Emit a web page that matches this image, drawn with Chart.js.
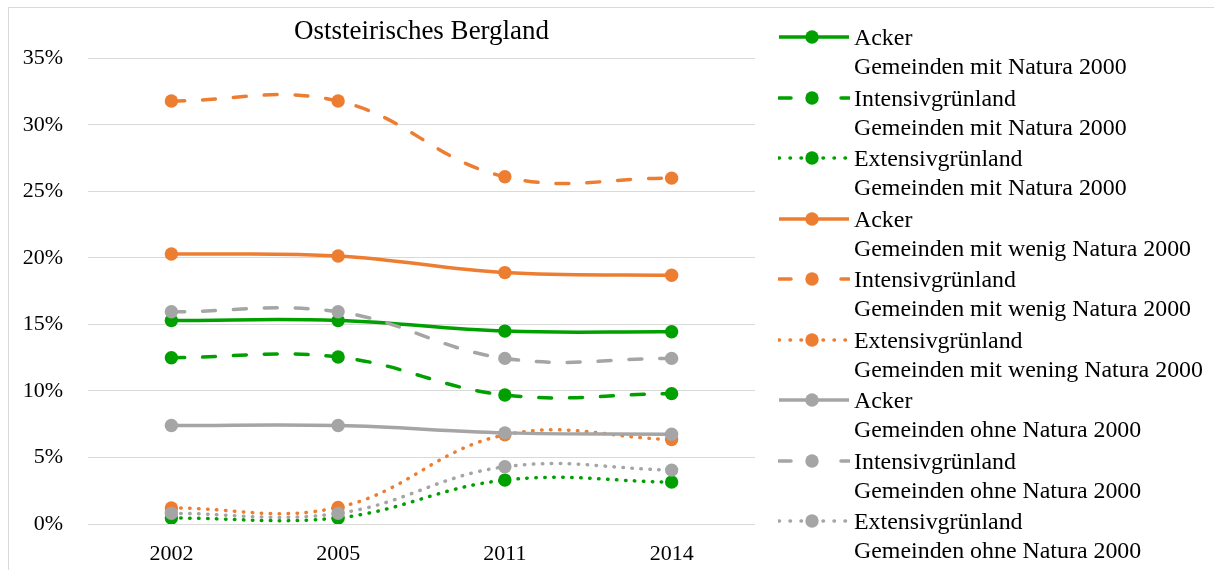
<!DOCTYPE html>
<html>
<head>
<meta charset="utf-8">
<title>Oststeirisches Bergland</title>
<script src="https://cdn.jsdelivr.net/npm/chart.js@4.4.1/dist/chart.umd.min.js"></script>
<style>
  html, body { margin: 0; padding: 0; background: #fff; }
  body {
    width: 1214px; height: 570px; position: relative; overflow: hidden;
    font-family: "Liberation Serif", "Times New Roman", serif; color: #000;
  }
  .frame { position: absolute; left: 8px; top: 7px; width: 1220px; height: 580px; border: 1px solid #d9d9d9; }
  .chart-box { position: absolute; left: 0; top: 0; width: 850px; height: 570px; }
  .legend { position: absolute; left: 778px; top: 23px; }
  .legend-item { position: relative; height: 58px; margin-bottom: 2.5px; padding-left: 76px; }
  .legend-item svg { position: absolute; left: 0; top: 7px; }
  .legend-line { font-size: 23.9px; line-height: 29px; white-space: nowrap; }
</style>
</head>
<body>
<div class="frame"></div>
<div class="chart-box"><canvas id="chart"></canvas></div>
<div class="legend" id="legend"></div>

<script>
// ---------- Data ----------
const years = ['2002', '2005', '2011', '2014'];
const yTicks = [0, 5, 10, 15, 20, 25, 30, 35];

const ackerMit       = [15.3, 15.3, 14.5, 14.45];
const intensivMit    = [12.5, 12.55, 9.7, 9.8];
const extensivMit    = [0.45, 0.45, 3.3, 3.15];
const ackerWenig     = [20.3, 20.15, 18.9, 18.7];
const intensivWenig  = [31.8, 31.8, 26.1, 26.0];
const extensivWenig  = [1.2, 1.25, 6.7, 6.35];
const ackerOhne      = [7.4, 7.4, 6.85, 6.75];
const intensivOhne   = [15.95, 15.95, 12.45, 12.45];
const extensivOhne   = [0.8, 0.8, 4.3, 4.05];

const seriesValues = [ackerMit, intensivMit, extensivMit, ackerWenig, intensivWenig, extensivWenig, ackerOhne, intensivOhne, extensivOhne];
const seriesTypes = ['Acker', 'Intensivgrünland', 'Extensivgrünland', 'Acker', 'Intensivgrünland', 'Extensivgrünland', 'Acker', 'Intensivgrünland', 'Extensivgrünland'];
const seriesGroups = [
  'Gemeinden mit Natura 2000', 'Gemeinden mit Natura 2000', 'Gemeinden mit Natura 2000',
  'Gemeinden mit wenig Natura 2000', 'Gemeinden mit wenig Natura 2000', 'Gemeinden mit wening Natura 2000',
  'Gemeinden ohne Natura 2000', 'Gemeinden ohne Natura 2000', 'Gemeinden ohne Natura 2000'
];

// ---------- Styles ----------
const GREEN = '#00a000', ORANGE = '#ed7d31', GRAY = '#a5a5a5';
const seriesColors = [GREEN, GREEN, GREEN, ORANGE, ORANGE, ORANGE, GRAY, GRAY, GRAY];
const seriesStyles = ['solid', 'dash', 'dot', 'solid', 'dash', 'dot', 'solid', 'dash', 'dot'];
const FONT = '"Liberation Serif", "Times New Roman", serif';

function dashFor(style) {
  if (style === 'dash') return [13, 18];
  if (style === 'dot') return [0.5, 8.5];
  return [];
}

// ---------- Chart ----------
const datasets = seriesValues.map((vals, i) => ({
  label: seriesTypes[i] + ' ' + seriesGroups[i],
  data: vals,
  borderColor: seriesColors[i],
  backgroundColor: seriesColors[i],
  borderWidth: 3.5,
  borderDash: dashFor(seriesStyles[i]),
  borderCapStyle: seriesStyles[i] === 'solid' ? 'butt' : 'round',
  pointRadius: 6.7,
  pointHoverRadius: 6.7,
  pointBorderWidth: 0,
  pointBackgroundColor: seriesColors[i],
  tension: 0.4,
  fill: false,
  order: seriesValues.length - i   // later series on top, like the original
}));

new Chart(document.getElementById('chart'), {
  type: 'line',
  data: { labels: years, datasets },
  options: {
    responsive: true,
    maintainAspectRatio: false,
    animation: false,
    layout: { padding: { left: 0, right: 95, top: 0, bottom: 0 } },
    plugins: {
      legend: { display: false },
      tooltip: { enabled: false },
      title: {
        display: true,
        fullSize: false,   // center over the plot area
        text: 'Oststeirisches Bergland',
        color: '#000',
        font: { family: FONT, size: 27, weight: 'normal' },
        padding: { top: 16, bottom: 10 }
      }
    },
    scales: {
      x: {
        offset: true,
        grid: { display: false, drawTicks: false },
        border: { display: false },
        ticks: { color: '#000', padding: 17, font: { family: FONT, size: 22 } },
        afterFit: s => { s.height = 46; }
      },
      y: {
        min: yTicks[0],
        max: yTicks[yTicks.length - 1],
        afterBuildTicks: s => { s.ticks = yTicks.map(v => ({ value: v })); },
        grid: { color: '#d9d9d9', lineWidth: 1, drawTicks: false },
        border: { display: false },
        ticks: { color: '#000', padding: 25, font: { family: FONT, size: 22 }, callback: v => v + '%' },
        afterFit: s => { s.width = 88; }
      }
    }
  }
});

// ---------- Legend (two-line labels) ----------
function legendSample(color, style) {
  const dash = style === 'dash' ? ' stroke-dasharray="12 50" stroke-linecap="round"'
    : style === 'dot' ? ' stroke-dasharray="0.5 10.5" stroke-linecap="round"' : '';
  return `<svg width="72" height="14" viewBox="0 0 72 14">
    <line x1="1" y1="7" x2="71" y2="7" stroke="${color}" stroke-width="3.5"${dash}/>
    <circle cx="34" cy="7" r="6.7" fill="${color}"/>
  </svg>`;
}

document.getElementById('legend').innerHTML = seriesValues.map((_, i) => `
  <div class="legend-item">
    ${legendSample(seriesColors[i], seriesStyles[i])}
    <div class="legend-line">${seriesTypes[i]}</div>
    <div class="legend-line">${seriesGroups[i]}</div>
  </div>`).join('');
</script>
</body>
</html>
